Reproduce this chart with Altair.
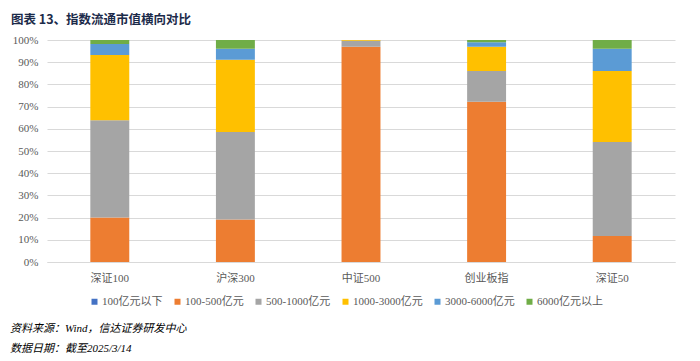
import altair as alt
import pandas as pd

categories = ["深证100", "沪深300", "中证500", "创业板指", "深证50"]
series = ["100亿元以下", "100-500亿元", "500-1000亿元", "1000-3000亿元", "3000-6000亿元", "6000亿元以上"]
colors = ["#4472C4", "#ED7D31", "#A5A5A5", "#FFC000", "#5B9BD5", "#70AD47"]

# percentage share of each bucket, per index (same order as categories)
s_lt100 = [0.0, 0.0, 0.0, 0.0, 0.0]
s_100_500 = [20.0, 19.1, 97.0, 72.2, 11.7]
s_500_1000 = [43.9, 39.5, 2.7, 13.8, 42.3]
s_1000_3000 = [29.3, 32.5, 0.3, 11.0, 32.0]
s_3000_6000 = [5.0, 5.0, 0.0, 2.0, 10.1]
s_gt6000 = [1.8, 3.9, 0.0, 1.0, 3.9]

y_ticks = [0, 10, 20, 30, 40, 50, 60, 70, 80, 90, 100]

title_text = "图表 13、指数流通市值横向对比"
source_text = "资料来源：Wind，信达证券研发中心"
date_text = "数据日期：截至2025/3/14"

all_series = [s_lt100, s_100_500, s_500_1000, s_1000_3000, s_3000_6000, s_gt6000]
rows = []
for si, (name, vals) in enumerate(zip(series, all_series)):
    for ci, cat in enumerate(categories):
        rows.append({"index": cat, "bucket": name, "order": si, "value": vals[ci]})
df = pd.DataFrame(rows)

SERIF = "Liberation Serif, Noto Sans CJK SC"

bars = alt.Chart(df).mark_bar().encode(
    x=alt.X("index:N", sort=categories, title=None,
            scale=alt.Scale(paddingInner=0.69, paddingOuter=0.345),
            axis=alt.Axis(labelAngle=0, ticks=False, domainColor="#D9D9D9",
                          labelPadding=10, labelFont=SERIF, labelFontSize=11,
                          labelColor="#595959", grid=False)),
    y=alt.Y("value:Q", stack="zero", title=None,
            scale=alt.Scale(domain=[0, 100], nice=False),
            axis=alt.Axis(values=y_ticks, labelExpr="datum.value + '%'",
                          ticks=False, domain=False, gridColor="#D9D9D9",
                          labelPadding=9, labelFont=SERIF, labelFontSize=11,
                          labelColor="#595959")),
    color=alt.Color("bucket:N", sort=series,
                    scale=alt.Scale(domain=series, range=colors),
                    legend=alt.Legend(title=None, orient="none", legendX=42, legendY=256,
                                      direction="horizontal", columns=6,
                                      symbolType="square", symbolSize=36,
                                      symbolStrokeWidth=0, labelOffset=2,
                                      columnPadding=9, labelFont=SERIF,
                                      labelFontSize=11, labelColor="#595959")),
    order=alt.Order("order:Q", sort="ascending"),
)

title_df = pd.DataFrame({"t": [title_text]})
title = alt.Chart(title_df).mark_text(
    align="left", baseline="middle", font="Noto Sans CJK SC", fontWeight="bold",
    fontSize=12.5, color="#1c2b4a"
).encode(x=alt.value(-36), y=alt.value(-20), text="t:N")

src_df = pd.DataFrame({"t": [source_text]})
src = alt.Chart(src_df).mark_text(
    align="left", baseline="middle", font=SERIF, fontStyle="italic",
    fontSize=11, color="#000000"
).encode(x=alt.value(-37), y=alt.value(289), text="t:N")

date_df = pd.DataFrame({"t": [date_text]})
date = alt.Chart(date_df).mark_text(
    align="left", baseline="middle", font=SERIF, fontStyle="italic",
    fontSize=11, color="#000000"
).encode(x=alt.value(-37), y=alt.value(309), text="t:N")

chart = alt.layer(bars, title, src, date).properties(
    width=628, height=222,
    autosize=alt.AutoSizeParams(type="none"),
    padding={"left": 39, "top": 32, "right": 17, "bottom": 95},
).configure_view(stroke=None)

chart.save("out.html", embed_options={"renderer": "svg", "actions": False})
